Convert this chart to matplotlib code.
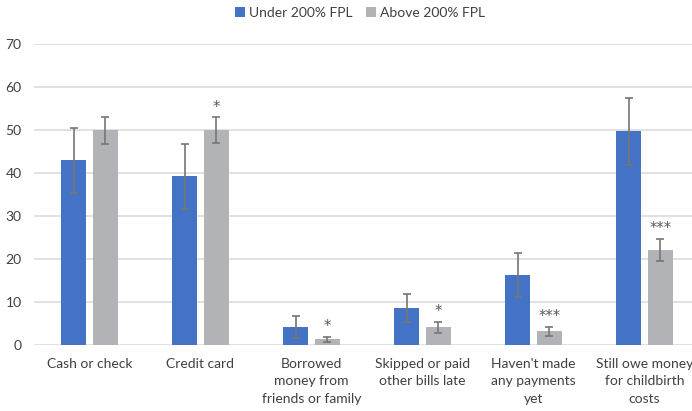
import numpy as np
import matplotlib.pyplot as plt

plt.rcParams['font.family'] = ['Lato', 'DejaVu Sans']

categories = ["Cash or check", "Credit card", "Borrowed\nmoney from\nfriends or family",
              "Skipped or paid\nother bills late", "Haven't made\nany payments\nyet",
              "Still owe money\nfor childbirth\ncosts"]
under = [43.0, 39.3, 4.2, 8.5, 16.3, 49.8]
under_lo = [35.4, 31.6, 1.6, 5.3, 11.1, 41.9]
under_hi = [50.4, 46.7, 6.7, 11.8, 21.4, 57.4]
above = [50.0, 50.0, 1.4, 4.2, 3.3, 22.1]
above_lo = [46.7, 47.0, 0.6, 2.8, 2.2, 19.5]
above_hi = [53.0, 53.0, 1.9, 5.4, 4.3, 24.7]
stars = ["", "*", "*", "*", "***", "***"]

blue = "#4472C4"
grey = "#B1B3B6"
txt = "#404040"

fig = plt.figure(figsize=(6.92, 4.11), dpi=100)
ax = fig.add_axes([34 / 692, 66 / 411, 666 / 692, 301 / 411])

x = np.arange(len(categories))
w = 0.225
off = 0.144
u = np.array(under)
a = np.array(above)
err_u = [u - np.array(under_lo), np.array(under_hi) - u]
err_a = [a - np.array(above_lo), np.array(above_hi) - a]
ekw = dict(ecolor="#767676", elinewidth=1.2, capsize=3.2, capthick=1.2)

ax.bar(x - off, u, w, color=blue, yerr=err_u, error_kw=ekw, zorder=3,
       label="Under 200% FPL")
ax.bar(x + off, a, w, color=grey, yerr=err_a, error_kw=ekw, zorder=3,
       label="Above 200% FPL")

# significance markers sit just above the grey error bars
for xi, hi, s in zip(x, above_hi, stars):
    if s:
        ax.text(xi + off, hi + 2.3, s, ha="center", va="center",
                fontsize=10.5, color="#595959", family="DejaVu Sans")

ax.set_xlim(-0.5, 5.5)
ax.set_ylim(0, 70)
ax.set_yticks(range(0, 71, 10))
ax.yaxis.grid(True, color="#D9D9D9", linewidth=1.1, zorder=0)
ax.set_axisbelow(True)
for sp in ax.spines.values():
    sp.set_visible(False)
ax.tick_params(axis="both", length=0, labelsize=10, colors=txt)
ax.tick_params(axis="y", pad=9)
ax.tick_params(axis="x", pad=9)
ax.set_xticks(x)
ax.set_xticklabels(categories, linespacing=1.55)

fig.legend(loc="center", bbox_to_anchor=(360 / 692, 1 - 13 / 411), ncol=2,
           frameon=False, fontsize=10, handlelength=0.7, handleheight=0.7,
           handletextpad=0.3, columnspacing=1.0, labelcolor=txt)

fig.savefig("out.png", dpi=100)
